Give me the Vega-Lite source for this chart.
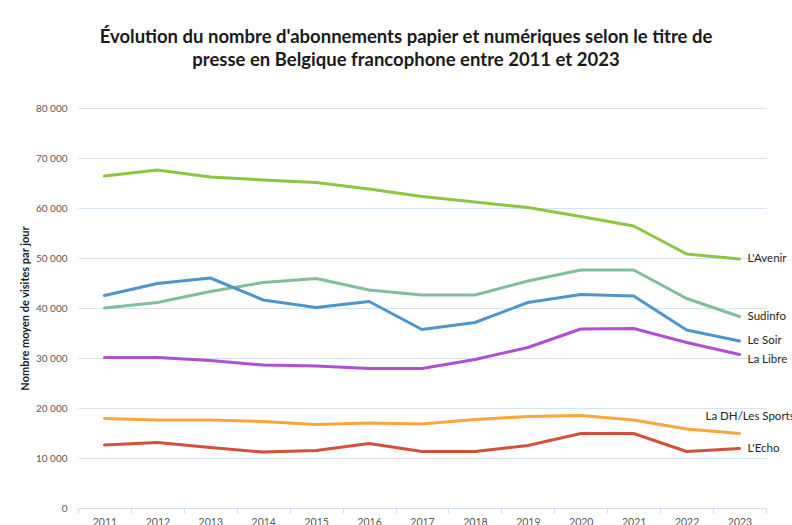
{
  "$schema": "https://vega.github.io/schema/vega-lite/v6.json",
  "width": 688,
  "height": 400,
  "autosize": "none",
  "padding": {"left": 78, "top": 108, "right": 26, "bottom": 17},
  "background": "white",
  "config": {
    "font": "Lato",
    "view": {"stroke": null}
  },
  "title": {
    "text": ["Évolution du nombre d'abonnements papier et numériques selon le titre de", "presse en Belgique francophone entre 2011 et 2023"],
    "font": "Lato",
    "fontSize": 18.5,
    "fontWeight": "bold",
    "color": "#1a1a1a",
    "lineHeight": 23,
    "anchor": "middle",
    "dx": -16,
    "offset": 34
  },
  "data": {
    "values": [
      {"year": "2011", "titre": "L'Avenir", "value": 66400},
      {"year": "2012", "titre": "L'Avenir", "value": 67600},
      {"year": "2013", "titre": "L'Avenir", "value": 66200},
      {"year": "2014", "titre": "L'Avenir", "value": 65600},
      {"year": "2015", "titre": "L'Avenir", "value": 65100},
      {"year": "2016", "titre": "L'Avenir", "value": 63800},
      {"year": "2017", "titre": "L'Avenir", "value": 62300},
      {"year": "2018", "titre": "L'Avenir", "value": 61200},
      {"year": "2019", "titre": "L'Avenir", "value": 60100},
      {"year": "2020", "titre": "L'Avenir", "value": 58300},
      {"year": "2021", "titre": "L'Avenir", "value": 56400},
      {"year": "2022", "titre": "L'Avenir", "value": 50800},
      {"year": "2023", "titre": "L'Avenir", "value": 49800},
      {"year": "2011", "titre": "Sudinfo", "value": 40000},
      {"year": "2012", "titre": "Sudinfo", "value": 41100},
      {"year": "2013", "titre": "Sudinfo", "value": 43300},
      {"year": "2014", "titre": "Sudinfo", "value": 45100},
      {"year": "2015", "titre": "Sudinfo", "value": 45900},
      {"year": "2016", "titre": "Sudinfo", "value": 43600},
      {"year": "2017", "titre": "Sudinfo", "value": 42600},
      {"year": "2018", "titre": "Sudinfo", "value": 42600},
      {"year": "2019", "titre": "Sudinfo", "value": 45400},
      {"year": "2020", "titre": "Sudinfo", "value": 47600},
      {"year": "2021", "titre": "Sudinfo", "value": 47600},
      {"year": "2022", "titre": "Sudinfo", "value": 41900},
      {"year": "2023", "titre": "Sudinfo", "value": 38300},
      {"year": "2011", "titre": "Le Soir", "value": 42500},
      {"year": "2012", "titre": "Le Soir", "value": 44900},
      {"year": "2013", "titre": "Le Soir", "value": 46000},
      {"year": "2014", "titre": "Le Soir", "value": 41600},
      {"year": "2015", "titre": "Le Soir", "value": 40100},
      {"year": "2016", "titre": "Le Soir", "value": 41300},
      {"year": "2017", "titre": "Le Soir", "value": 35700},
      {"year": "2018", "titre": "Le Soir", "value": 37100},
      {"year": "2019", "titre": "Le Soir", "value": 41100},
      {"year": "2020", "titre": "Le Soir", "value": 42700},
      {"year": "2021", "titre": "Le Soir", "value": 42400},
      {"year": "2022", "titre": "Le Soir", "value": 35600},
      {"year": "2023", "titre": "Le Soir", "value": 33400},
      {"year": "2011", "titre": "La Libre", "value": 30100},
      {"year": "2012", "titre": "La Libre", "value": 30100},
      {"year": "2013", "titre": "La Libre", "value": 29500},
      {"year": "2014", "titre": "La Libre", "value": 28600},
      {"year": "2015", "titre": "La Libre", "value": 28400},
      {"year": "2016", "titre": "La Libre", "value": 27900},
      {"year": "2017", "titre": "La Libre", "value": 27900},
      {"year": "2018", "titre": "La Libre", "value": 29700},
      {"year": "2019", "titre": "La Libre", "value": 32100},
      {"year": "2020", "titre": "La Libre", "value": 35800},
      {"year": "2021", "titre": "La Libre", "value": 35900},
      {"year": "2022", "titre": "La Libre", "value": 33100},
      {"year": "2023", "titre": "La Libre", "value": 30700},
      {"year": "2011", "titre": "La DH/Les Sports", "value": 17900},
      {"year": "2012", "titre": "La DH/Les Sports", "value": 17600},
      {"year": "2013", "titre": "La DH/Les Sports", "value": 17600},
      {"year": "2014", "titre": "La DH/Les Sports", "value": 17300},
      {"year": "2015", "titre": "La DH/Les Sports", "value": 16700},
      {"year": "2016", "titre": "La DH/Les Sports", "value": 17000},
      {"year": "2017", "titre": "La DH/Les Sports", "value": 16800},
      {"year": "2018", "titre": "La DH/Les Sports", "value": 17700},
      {"year": "2019", "titre": "La DH/Les Sports", "value": 18300},
      {"year": "2020", "titre": "La DH/Les Sports", "value": 18500},
      {"year": "2021", "titre": "La DH/Les Sports", "value": 17600},
      {"year": "2022", "titre": "La DH/Les Sports", "value": 15800},
      {"year": "2023", "titre": "La DH/Les Sports", "value": 14900},
      {"year": "2011", "titre": "L'Echo", "value": 12600},
      {"year": "2012", "titre": "L'Echo", "value": 13100},
      {"year": "2013", "titre": "L'Echo", "value": 12100},
      {"year": "2014", "titre": "L'Echo", "value": 11200},
      {"year": "2015", "titre": "L'Echo", "value": 11500},
      {"year": "2016", "titre": "L'Echo", "value": 12900},
      {"year": "2017", "titre": "L'Echo", "value": 11300},
      {"year": "2018", "titre": "L'Echo", "value": 11300},
      {"year": "2019", "titre": "L'Echo", "value": 12500},
      {"year": "2020", "titre": "L'Echo", "value": 14900},
      {"year": "2021", "titre": "L'Echo", "value": 14900},
      {"year": "2022", "titre": "L'Echo", "value": 11300},
      {"year": "2023", "titre": "L'Echo", "value": 11900}
    ]
  },
  "encoding": {
    "x": {
      "field": "year",
      "type": "ordinal",
      "scale": {"type": "band", "paddingInner": 0, "paddingOuter": 0},
      "axis": {
        "title": null,
        "labelAngle": 0,
        "tickBand": "extent",
        "tickColor": "#c9ddf1",
        "tickSize": 5,
        "domainColor": "#c9ddf1",
        "labelFontSize": 10.5,
        "labelColor": "#595959",
        "labelPadding": 4,
        "grid": false
      }
    },
    "y": {
      "field": "value",
      "type": "quantitative",
      "scale": {"domain": [0, 80000], "nice": false},
      "axis": {
        "title": "Nombre moyen de visites par jour",
        "titleFontSize": 11,
        "titleFontWeight": "bold",
        "titleColor": "#1a1a1a",
        "titlePadding": 5,
        "values": [0, 10000, 20000, 30000, 40000, 50000, 60000, 70000, 80000],
        "labelExpr": "replace(format(datum.value, ',d'), ',', ' ')",
        "labelFontSize": 10,
        "labelColor": "#595959",
        "labelPadding": 11,
        "ticks": false,
        "domain": false,
        "grid": true,
        "gridColor": "#d3e4f4",
        "gridWidth": 1
      }
    },
    "color": {
      "field": "titre",
      "type": "nominal",
      "legend": null,
      "scale": {
        "domain": ["L'Avenir", "Sudinfo", "Le Soir", "La Libre", "La DH/Les Sports", "L'Echo"],
        "range": ["#8dc63f", "#7fbf9b", "#4f95cb", "#b04fd4", "#f9a63c", "#d4503a"]
      }
    }
  },
  "layer": [
    {
      "mark": {"type": "line", "strokeWidth": 3, "strokeCap": "round", "strokeJoin": "round"}
    },
    {
      "transform": [
        {"filter": "datum.year == '2023' && datum.titre != 'La Libre' && datum.titre != 'La DH/Les Sports'"}
      ],
      "mark": {"type": "text", "align": "left", "baseline": "middle", "dx": 8, "fontSize": 11.5},
      "encoding": {"text": {"field": "titre"}, "color": {"value": "#262626"}}
    },
    {
      "transform": [{"filter": "datum.year == '2023' && datum.titre == 'La Libre'"}],
      "mark": {"type": "text", "align": "left", "baseline": "middle", "dx": 8, "dy": 5, "fontSize": 11.5},
      "encoding": {"text": {"field": "titre"}, "color": {"value": "#262626"}}
    },
    {
      "transform": [{"filter": "datum.year == '2023' && datum.titre == 'La DH/Les Sports'"}],
      "mark": {"type": "text", "align": "left", "baseline": "middle", "dx": -34, "dy": -17, "fontSize": 11.5},
      "encoding": {"text": {"field": "titre"}, "color": {"value": "#262626"}}
    }
  ]
}
